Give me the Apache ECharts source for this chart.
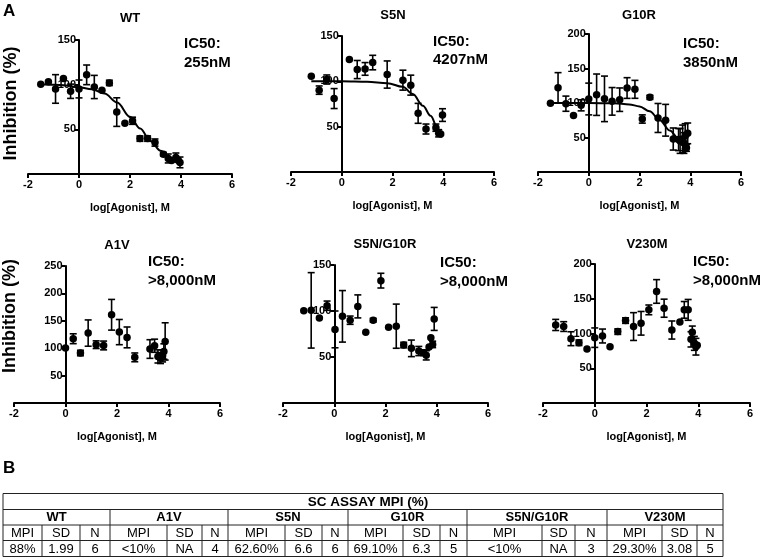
<!DOCTYPE html>
<html><head><meta charset="utf-8">
<script src="https://cdn.jsdelivr.net/npm/echarts@6/dist/echarts.min.js"></script>
<style>html,body{margin:0;padding:0;background:#fff}#c{width:760px;height:559px}</style>
</head><body><div id="c"></div>
<script>
// ---------------- DATA ----------------
const panelNames = ['WT', 'S5N', 'G10R', 'A1V', 'S5N/G10R', 'V230M'];
const ic50Values = ['255nM', '4207nM', '3850nM', '>8,000nM', '>8,000nM', '>8,000nM'];
const yAxisMax = [150, 150, 200, 250, 150, 200];
const xAxisName = 'log[Agonist], M';
const yAxisName = 'Inhibition (%)';

// [log concentration, inhibition %, error (SD)]
const wtPoints = [
  [-1.5, 100.4, 0], [-1.2, 103.3, 0], [-0.92, 95.2, 16], [-0.61, 107, 0], [-0.33, 92.6, 8],
  [0, 95.2, 10], [0.3, 111, 11], [0.6, 97.4, 13], [0.9, 93.7, 0], [1.19, 102, 3],
  [1.48, 69.3, 16], [1.8, 56.7, 0], [2.1, 59.6, 4], [2.39, 39.6, 3], [2.69, 39.6, 3],
  [2.98, 35.2, 4], [3.31, 22.2, 2], [3.5, 17.4, 5], [3.63, 15, 0], [3.8, 18.5, 5],
  [3.9, 15, 0], [3.96, 13, 6]
];
const wtCurve = [
  [-1.5, 100.5], [-1, 100], [-0.5, 99], [0, 97], [0.5, 95], [1, 90], [1.5, 80],
  [2, 64], [2.4, 51], [2.8, 37], [3.2, 26], [3.6, 17], [4, 12]
];
const s5nPoints = [
  [-1.2, 105.7, 0], [-0.89, 90.3, 4.6], [-0.59, 102, 5], [-0.3, 81, 11], [0.3, 124, 0],
  [0.61, 113, 10], [0.92, 113.7, 7], [1.22, 120.7, 8], [1.79, 107.5, 15], [2.41, 101.3, 11],
  [2.72, 95.8, 11], [3.01, 64.7, 11], [3.32, 47.4, 5.5], [3.71, 48.9, 4], [3.82, 42.7, 4],
  [3.9, 42, 0], [3.97, 62.8, 7]
];
const s5nCurve = [
  [-1.2, 100], [0, 100], [1, 99.5], [1.8, 98], [2.4, 94], [2.8, 86], [3.2, 73],
  [3.5, 62], [3.8, 47], [4, 40]
];
const g10rPoints = [
  [-1.51, 99.5, 0], [-1.21, 122, 22], [-0.9, 99, 11], [-0.6, 82, 0], [-0.3, 96.6, 8],
  [0, 105.8, 23], [0.31, 112, 30], [0.62, 106, 33], [0.92, 102.4, 20], [1.22, 104.8, 17],
  [1.51, 121.7, 15], [1.82, 119.8, 13], [2.11, 76.8, 6], [2.41, 108.2, 3], [2.73, 78.3, 21],
  [3.03, 75, 23], [3.33, 47.8, 16], [3.54, 47, 16], [3.6, 45, 18], [3.7, 48, 20],
  [3.75, 42, 15], [3.8, 52, 18], [3.85, 35, 5], [3.9, 56, 15]
];
const g10rCurve = [
  [-1.5, 100], [0, 100], [1, 99.5], [1.6, 98], [2, 95], [2.4, 88], [2.8, 75],
  [3.2, 60], [3.5, 50], [3.9, 38]
];
const a1vPoints = [
  [0, 100.3, 0], [0.3, 117.3, 9], [0.58, 91.2, 5], [0.88, 127.6, 24], [1.19, 106.4, 7],
  [1.48, 105, 8], [1.79, 161, 28], [2.09, 129.4, 23], [2.39, 119.7, 19], [2.69, 83.3, 8],
  [3.28, 98.5, 17], [3.46, 104.5, 12], [3.59, 85, 12], [3.69, 82, 10], [3.77, 86, 11],
  [3.82, 94, 14], [3.87, 112.4, 34]
];
const s5nG10rPoints = [
  [-1.19, 100.4, 0], [-0.9, 100.7, 41], [-0.58, 92.4, 0], [-0.28, 105.8, 5], [0.03, 80, 20],
  [0.32, 94.2, 28], [0.62, 90, 4.5], [0.92, 105, 12.5], [1.23, 77, 0], [1.52, 90, 2],
  [1.82, 133, 8], [2.12, 82.4, 0], [2.42, 83.5, 24], [2.71, 63, 3], [3.01, 59.4, 9],
  [3.3, 56.5, 5], [3.48, 54.7, 3], [3.59, 51.8, 5], [3.7, 61, 0], [3.77, 70.9, 0],
  [3.84, 63.7, 3.5], [3.9, 91.4, 12.5]
];
const v230mPoints = [
  [-1.51, 112.3, 8], [-1.2, 110, 7], [-0.92, 92.5, 10], [-0.61, 86.7, 4], [-0.3, 77.6, 0],
  [0, 94, 14], [0.3, 96.4, 10], [0.59, 81, 0], [0.89, 102.7, 4], [1.19, 118.6, 4],
  [1.5, 110, 20], [1.79, 114.7, 17], [2.09, 134, 7], [2.39, 160.5, 17], [2.68, 136.4, 13],
  [2.98, 105, 13], [3.29, 116.6, 0], [3.46, 134, 12], [3.61, 134, 15], [3.72, 91.6, 11],
  [3.77, 101.7, 9], [3.85, 85.8, 10], [3.91, 81, 12], [3.96, 83, 0]
];

// Table (panel B)
const tableTitle = 'SC ASSAY MPI (%)';
const tableGroups = ['WT', 'A1V', 'S5N', 'G10R', 'S5N/G10R', 'V230M'];
const tableSubHeaders = ['MPI', 'SD', 'N'];
const tableMPI = ['88%', '<10%', '62.60%', '69.10%', '<10%', '29.30%'];
const tableSD = ['1.99', 'NA', '6.6', '6.3', 'NA', '3.08'];
const tableN = ['6', '4', '6', '5', '3', '5'];

// ---------------- LAYOUT ----------------
const FONT = '"Liberation Sans", Arial, Helvetica, sans-serif';
const pointsByPanel = [wtPoints, s5nPoints, g10rPoints, a1vPoints, s5nG10rPoints, v230mPoints];
const curvesByPanel = [wtCurve, s5nCurve, g10rCurve, null, null, null];
const gridLayout = [
  { left: 28, top: 40, width: 204, height: 134 },
  { left: 291, top: 36, width: 203, height: 136 },
  { left: 538, top: 34, width: 203, height: 138 },
  { left: 14, top: 266, width: 206, height: 137 },
  { left: 283, top: 265, width: 205, height: 138 },
  { left: 543, top: 264, width: 207, height: 139 }
];
const titlePos = [[130, 18.5], [393, 15], [639, 15], [117, 245.5], [385, 244], [647, 244]];
const icPos = [[184, 44, 63], [433, 41.5, 59.5], [683, 43.5, 62.5], [148, 262, 280.5], [440, 263, 282], [693, 262, 280.5]];

const tableRowsY = [493.5, 509.5, 525, 540.5, 556.5];
const groupEdges = [3, 110, 228, 348, 467, 607, 723];
const subEdges = [[42, 80], [167, 202], [285, 322], [403, 440], [542, 575], [662, 697]];

// ---------------- BUILD ----------------
function errRender(params, api) {
  const x = api.value(0), y = api.value(1), e = api.value(2);
  const top = api.coord([x, y + e]);
  const bot = api.coord([x, y - e]);
  const hw = 3.5;
  const style = { stroke: '#000', lineWidth: 1.6 };
  return {
    type: 'group', children: [
      { type: 'line', shape: { x1: top[0], y1: top[1], x2: bot[0], y2: bot[1] }, style },
      { type: 'line', shape: { x1: top[0] - hw, y1: top[1], x2: top[0] + hw, y2: top[1] }, style },
      { type: 'line', shape: { x1: bot[0] - hw, y1: bot[1], x2: bot[0] + hw, y2: bot[1] }, style }
    ]
  };
}

const grids = [], xAxes = [], yAxes = [], series = [], graphics = [];
const axisLineStyle = { color: '#000', width: 2 };
panelNames.forEach((name, i) => {
  const g = gridLayout[i];
  grids.push(Object.assign({ containLabel: false }, g));
  xAxes.push({
    type: 'value', gridIndex: i, min: -2, max: 6, interval: 2,
    axisLine: { show: true, onZero: false, lineStyle: axisLineStyle },
    axisTick: { show: true, length: 4, lineStyle: axisLineStyle },
    axisLabel: { color: '#000', fontWeight: 'bold', fontSize: 11, fontFamily: FONT, margin: 5 },
    splitLine: { show: false },
    name: xAxisName, nameLocation: 'middle', nameGap: 28,
    nameTextStyle: { color: '#000', fontWeight: 'bold', fontSize: 11, fontFamily: FONT }
  });
  // y axis crosses the x axis at x = 0 (a quarter of the way along [-2, 6])
  yAxes.push({
    type: 'value', gridIndex: i, min: 0, max: yAxisMax[i], interval: 50,
    position: 'left', offset: -g.width * (0 - (-2)) / (6 - (-2)),
    axisLine: { show: true, onZero: false, lineStyle: axisLineStyle },
    axisTick: { show: true, length: 4, lineStyle: axisLineStyle },
    axisLabel: { color: '#000', fontWeight: 'bold', fontSize: 11, fontFamily: FONT, margin: 3, showMinLabel: false,
      formatter: v => (v === 0 ? '' : String(v)) },
    splitLine: { show: false }
  });
  const pts = pointsByPanel[i];
  if (curvesByPanel[i]) {
    series.push({
      type: 'line', xAxisIndex: i, yAxisIndex: i, data: curvesByPanel[i],
      smooth: 0.35, smoothMonotone: 'x', showSymbol: false, symbol: 'none',
      lineStyle: { color: '#000', width: 2, opacity: 1 }, z: 3, silent: true
    });
  }
  series.push({
    type: 'custom', xAxisIndex: i, yAxisIndex: i,
    data: pts.filter(p => p[2] > 0),
    encode: { x: 0, y: 1 }, renderItem: errRender, z: 4, silent: true
  });
  series.push({
    type: 'scatter', xAxisIndex: i, yAxisIndex: i,
    data: pts.map(p => [p[0], p[1]]),
    symbol: 'circle', symbolSize: 7.5, itemStyle: { color: '#000', opacity: 1 }, z: 5, silent: true
  });
  graphics.push({
    type: 'text', x: titlePos[i][0], y: titlePos[i][1],
    style: { text: name, font: 'bold 13px ' + FONT, fill: '#000', align: 'center', textAlign: 'center', verticalAlign: 'middle', textVerticalAlign: 'middle' }
  });
  graphics.push({
    type: 'text', x: icPos[i][0], y: icPos[i][1],
    style: { text: 'IC50:', font: 'bold 15px ' + FONT, fill: '#000', align: 'left', textAlign: 'left', verticalAlign: 'middle', textVerticalAlign: 'middle' }
  });
  graphics.push({
    type: 'text', x: icPos[i][0], y: icPos[i][2],
    style: { text: ic50Values[i], font: 'bold 15px ' + FONT, fill: '#000', align: 'left', textAlign: 'left', verticalAlign: 'middle', textVerticalAlign: 'middle' }
  });
});

[[11, 103.5], [10, 316]].forEach(p => {
  graphics.push({
    type: 'text', x: p[0], y: p[1], rotation: Math.PI / 2,
    style: { text: yAxisName, font: 'bold 18px ' + FONT, fill: '#000', align: 'center', textAlign: 'center', verticalAlign: 'middle', textVerticalAlign: 'middle' }
  });
});
graphics.push({ type: 'text', x: 3, y: 11, style: { text: 'A', font: 'bold 17px ' + FONT, fill: '#000', align: 'left', textAlign: 'left', verticalAlign: 'middle', textVerticalAlign: 'middle' } });
graphics.push({ type: 'text', x: 3, y: 468.5, style: { text: 'B', font: 'bold 17px ' + FONT, fill: '#000', align: 'left', textAlign: 'left', verticalAlign: 'middle', textVerticalAlign: 'middle' } });

const lineStyle = { stroke: '#222', lineWidth: 1 };
function hline(x1, x2, y) { graphics.push({ type: 'line', shape: { x1, y1: y, x2, y2: y }, style: lineStyle }); }
function vline(x, y1, y2) { graphics.push({ type: 'line', shape: { x1: x, y1, x2: x, y2 }, style: lineStyle }); }
function cellText(text, x, y, bold) {
  graphics.push({ type: 'text', x, y, style: { text, font: (bold ? 'bold 13px ' : '13px ') + FONT, fill: '#000', align: 'center', textAlign: 'center', verticalAlign: 'middle', textVerticalAlign: 'middle' } });
}
const tl = groupEdges[0], tr = groupEdges[groupEdges.length - 1];
tableRowsY.forEach(y => hline(tl, tr, y));
vline(tl, tableRowsY[0], tableRowsY[4]);
vline(tr, tableRowsY[0], tableRowsY[4]);
groupEdges.slice(1, -1).forEach(x => vline(x, tableRowsY[1], tableRowsY[4]));
subEdges.forEach(se => se.forEach(x => vline(x, tableRowsY[2], tableRowsY[4])));
graphics.push({ type: 'text', x: 368, y: (tableRowsY[0] + tableRowsY[1]) / 2 + 0.5, style: { text: tableTitle, font: 'bold 13.5px ' + FONT, fill: '#000', align: 'center', textAlign: 'center', verticalAlign: 'middle', textVerticalAlign: 'middle' } });
tableGroups.forEach((gname, i) => {
  const gl = groupEdges[i], gr = groupEdges[i + 1];
  cellText(gname, (gl + gr) / 2, (tableRowsY[1] + tableRowsY[2]) / 2 + 0.5, true);
  const cols = [gl, subEdges[i][0], subEdges[i][1], gr];
  const vals = [tableMPI[i], tableSD[i], tableN[i]];
  for (let k = 0; k < 3; k++) {
    const cx = (cols[k] + cols[k + 1]) / 2;
    cellText(tableSubHeaders[k], cx, (tableRowsY[2] + tableRowsY[3]) / 2 + 0.5, false);
    cellText(vals[k], cx, (tableRowsY[3] + tableRowsY[4]) / 2 + 0.5, false);
  }
});

const chart = echarts.init(document.getElementById('c'), null, { renderer: 'canvas' });
chart.setOption({
  animation: false,
  backgroundColor: '#fff',
  grid: grids, xAxis: xAxes, yAxis: yAxes, series: series,
  graphic: { elements: graphics }
});
</script></body></html>
